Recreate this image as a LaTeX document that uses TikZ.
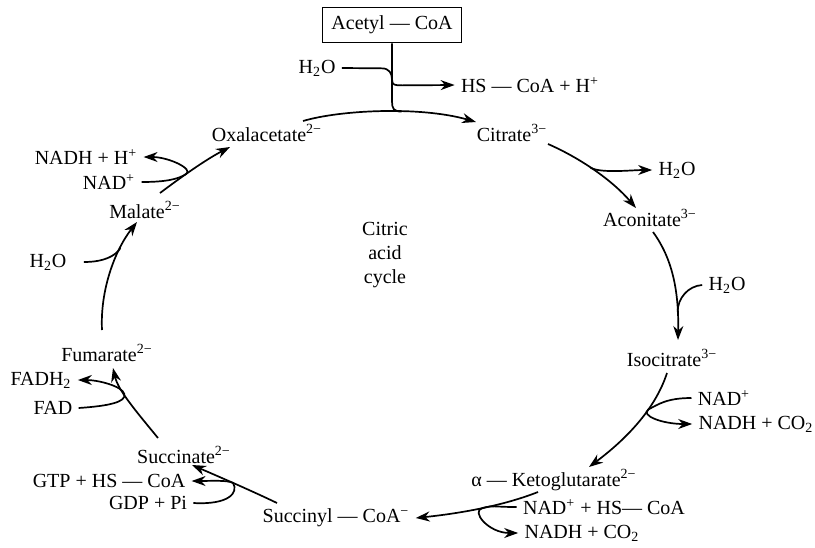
\documentclass[tikz,border=0pt]{standalone}
\usepackage{fontspec}
\setmainfont{Liberation Serif}
\usetikzlibrary{arrows.meta,calc}

\begin{document}
\begin{tikzpicture}[x=0.5pt, y=-0.5pt, >={Stealth[length=7pt,width=5pt]},
  lbl/.style={inner sep=3pt},
  flow/.style={->, line width=0.85pt},
  side/.style={line width=0.85pt}]
  \useasboundingbox (0,0) rectangle (815,547);
  \node[draw, line width=0.85pt, inner xsep=4.5pt, minimum height=17.5pt] (acoa) at (392,25) {Acetyl — CoA};
  \node[lbl] (h2oa) at (317,68) {H\textsubscript{2}O};
  \node[lbl] (hscoa) at (530,85) {HS — CoA + H\textsuperscript{+}};
  \node[lbl] (oxa) at (267,133) {Oxalacetate\textsuperscript{2−}};
  \node[lbl] (cit) at (512,133) {Citrate\textsuperscript{3−}};
  \node[lbl] (h2ob) at (677,170) {H\textsubscript{2}O};
  \node[lbl] (aco) at (650,218) {Aconitate\textsuperscript{3−}};
  \node[lbl] (h2oc) at (727,285) {H\textsubscript{2}O};
  \node[lbl] (iso) at (672,358) {Isocitrate\textsuperscript{3−}};
  \node[lbl] (nadc) at (724,398) {NAD\textsuperscript{+}};
  \node[lbl] (nadhc) at (756,424) {NADH + CO\textsubscript{2}};
  \node[lbl] (akg) at (554,480) {α — Ketoglutarate\textsuperscript{2−}};
  \node[lbl] (nadd) at (604,507) {NAD\textsuperscript{+} + HS— CoA};
  \node[lbl] (nadhd) at (582,533) {NADH + CO\textsubscript{2}};
  \node[lbl] (scoa) at (336,518) {Succinyl — CoA\textsuperscript{−}};
  \node[lbl] (gdp) at (148,503) {GDP + Pi};
  \node[lbl] (gtp) at (109,481) {GTP + HS — CoA};
  \node[lbl] (suc) at (184,455) {Succinate\textsuperscript{2−}};
  \node[lbl] (fad) at (53,408) {FAD};
  \node[lbl] (fadh) at (41,380) {FADH\textsubscript{2}};
  \node[lbl] (fum) at (107,353) {Fumarate\textsuperscript{2−}};
  \node[lbl] (h2oe) at (48,262) {H\textsubscript{2}O};
  \node[lbl] (mal) at (145,210) {Malate\textsuperscript{2−}};
  \node[lbl] (nade) at (109,182) {NAD\textsuperscript{+}};
  \node[lbl] (nadhe) at (86,157) {NADH + H\textsuperscript{+}};
  \node[lbl, align=center] (cyc) at (385,255) {Citric\\acid\\cycle};

  \draw[flow] ($(oxa)+(36,-12)$) .. controls +(37,-11) and +(-56,-16) .. ($(cit)+(-36,-11)$) coordinate[pos=0.6] (ca);
  \draw[side] (acoa.south) -- ++(0,58) .. controls +(0,7) and +(-8,0) .. (ca);
  \path (acoa.south) ++(0,36) coordinate (va);
  \draw[flow] (h2oa.east) -- ($(va)+(-10,-11)$) .. controls +(7,0) and +(0,-6) .. (va)
    .. controls +(0,6) and +(-7,0) .. ($(va)+(10,6)$) -- (hscoa.west);

  \draw[flow] ($(cit)+(36,11)$) .. controls +(32,14) and +(-24,-28) .. ($(aco)+(-14,-10)$) coordinate[pos=0.45] (cb);
  \draw[flow] (cb) .. controls +(10,6) and +(-20,0) .. (h2ob.west);

  \draw[flow] ($(aco)+(3,14)$) .. controls +(19,26) and +(1,-50) .. ($(iso)+(6,-18)$) coordinate[pos=0.8] (ci);
  \draw[side] (h2oc.west) .. controls +(-14,1) and +(0,-14) .. (ci);

  \draw[flow] ($(iso)+(-5,15)$) .. controls +(-12,37) and +(36,-27) .. ($(akg)+(35,-13)$) coordinate[pos=0.35] (ck);
  \draw[flow] (nadc.west) .. controls +(-25,0) and +(10,-5) .. (ck)
    .. controls +(-8,6) and +(-30,0) .. (nadhc.west);

  \draw[flow] ($(akg)+(-16,12)$) .. controls +(-33,13) and +(48,-5) .. (scoa.east) coordinate[pos=0.5] (cg);
  \draw[flow] (nadd.west) .. controls +(-25,0) and +(12,-3) .. (cg)
    .. controls +(-12,3) and +(-30,0) .. (nadhd.west);

  \draw[flow] ($(scoa)+(-59,-15)$) .. controls +(-27,-13) and +(23,10) .. ($(suc)+(8,10)$) coordinate[pos=0.5] (cs);
  \draw[flow] (gdp.east) .. controls +(35,2) and +(6,10) .. (cs)
    .. controls +(-6,-3) and +(18,0) .. (gtp.east);

  \draw[flow] ($(suc)+(-26,-17)$) .. controls +(-23,-28) and +(5,22) .. ($(fum)+(6,15)$) coordinate[pos=0.6] (cf);
  \draw[flow] (fad.east) .. controls +(30,-2) and +(2,8) .. (cf)
    .. controls +(-2,-8) and +(20,0) .. (fadh.east);

  \draw[flow] ($(fum)+(-5,-23)$) .. controls +(-2,-40) and +(-22,28) .. ($(mal)+(-8,12)$) coordinate[pos=0.72] (ch);
  \draw[side] ($(h2oe.east)+(11,0)$) .. controls +(20,0) and +(-5,8) .. (ch);

  \draw[flow] ($(mal)+(15,-17)$) .. controls +(20,-15) and +(-25,13) .. ($(oxa)+(-37,14)$) coordinate[pos=0.4] (cm);
  \draw[flow] (nade.east) .. controls +(25,0) and +(-8,5) .. (cm)
    .. controls +(8,-5) and +(25,0) .. (nadhe.east);
\end{tikzpicture}
\end{document}
